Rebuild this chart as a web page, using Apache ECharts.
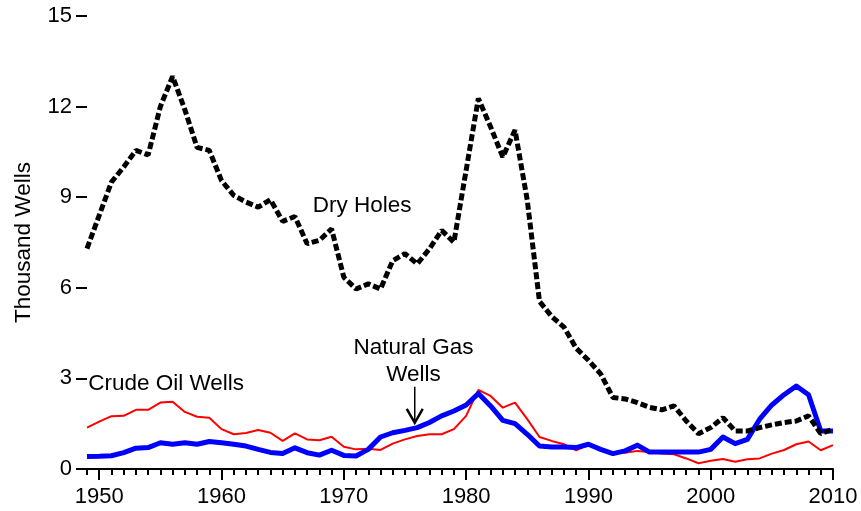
<!DOCTYPE html>
<html>
<head>
<meta charset="utf-8">
<script src="https://cdn.jsdelivr.net/npm/echarts@6/dist/echarts.min.js"></script>
<style>
  html, body { margin: 0; padding: 0; background: #fff; }
  #chart { width: 861px; height: 511px; }
</style>
</head>
<body>
<div id="chart"></div>
<script>
// Exploratory wells drilled, thousand wells, 1949-2010
const years = []
for (let y = 1949; y <= 2010; y++) years.push(y)

const dryHoles = [
  7.3, 8.4, 9.5, 10.0, 10.55, 10.4, 12.0, 13.0, 11.9, 10.65, 10.55, 9.55,
  9.06, 8.84, 8.67, 8.92, 8.2, 8.36, 7.46, 7.57, 7.95, 6.35, 5.96, 6.13,
  5.96, 6.9, 7.13, 6.79, 7.29, 7.9, 7.51, 9.89, 12.27, 11.33, 10.33, 11.22,
  8.9, 5.55, 5.05, 4.7, 4.0, 3.6, 3.15, 2.37, 2.32, 2.2, 2.04, 1.96,
  2.09, 1.59, 1.17, 1.37, 1.7, 1.26, 1.26, 1.37, 1.46, 1.54, 1.59, 1.76,
  1.17, 1.32,
]

const crudeOil = [
  1.37, 1.57, 1.75, 1.76, 1.96, 1.96, 2.2, 2.23, 1.89, 1.73, 1.7, 1.32,
  1.15, 1.19, 1.29, 1.2, 0.93, 1.18, 0.98, 0.95, 1.07, 0.74, 0.65, 0.67,
  0.63, 0.84, 0.98, 1.09, 1.15, 1.15, 1.32, 1.76, 2.62, 2.42, 2.03, 2.2,
  1.65, 1.06, 0.93, 0.82, 0.62, 0.8, 0.65, 0.54, 0.54, 0.6, 0.56, 0.51,
  0.49, 0.35, 0.19, 0.27, 0.33, 0.24, 0.32, 0.35, 0.51, 0.63, 0.82, 0.91,
  0.62, 0.79,
]

const naturalGas = [
  0.41, 0.42, 0.44, 0.54, 0.69, 0.71, 0.87, 0.82, 0.87, 0.82, 0.91, 0.87,
  0.82, 0.76, 0.65, 0.55, 0.51, 0.7, 0.54, 0.46, 0.62, 0.45, 0.43, 0.65,
  1.06, 1.2, 1.28, 1.37, 1.54, 1.76, 1.92, 2.12, 2.5, 2.09, 1.61, 1.5,
  1.15, 0.76, 0.73, 0.73, 0.71, 0.82, 0.65, 0.51, 0.6, 0.79, 0.56, 0.56,
  0.56, 0.56, 0.56, 0.65, 1.06, 0.84, 0.98, 1.65, 2.12, 2.46, 2.75, 2.46,
  1.26, 1.26,
]

const yTicks = [0, 3, 6, 9, 12, 15]
const decadeTicks = [1950, 1960, 1970, 1980, 1990, 2000, 2010]

const pairs = (vals) => years.map((y, i) => [y, vals[i]])

const FONT = 'Liberation Sans, Arial, sans-serif'
const chart = echarts.init(document.getElementById('chart'), null, { renderer: 'canvas' })

chart.setOption({
  animation: false,
  backgroundColor: '#fff',
  grid: { left: 87, right: 28, top: 16, bottom: 42 },
  xAxis: [
    {
      type: 'value', min: 1949, max: 2010, interval: 1,
      axisLine: { lineStyle: { color: '#000', width: 2 } },
      axisTick: { length: 6, lineStyle: { color: '#000', width: 2 } },
      axisLabel: { show: false },
      splitLine: { show: false },
    },
    {
      type: 'value', min: 1949, max: 2010, position: 'bottom',
      axisLine: { show: false },
      axisTick: { customValues: decadeTicks, length: 11, lineStyle: { color: '#000', width: 2 } },
      axisLabel: {
        customValues: decadeTicks, margin: 17,
        color: '#000', fontSize: 22, fontFamily: FONT,
        formatter: (v) => String(v),
      },
      splitLine: { show: false },
    },
  ],
  yAxis: {
    type: 'value', min: 0, max: 15, interval: 3,
    name: 'Thousand Wells', nameLocation: 'middle', nameGap: 52,
    nameTextStyle: { color: '#000', fontSize: 22.5, fontFamily: FONT },
    axisLine: { show: false },
    axisTick: { show: true, length: 11, lineStyle: { color: '#000', width: 2 } },
    axisLabel: {
      color: '#000', fontSize: 22, fontFamily: FONT, margin: 15,
      formatter: (v) => (yTicks.includes(v) ? String(v) : ''),
    },
    splitLine: { show: false },
  },
  series: [
    {
      name: 'Crude Oil Wells', type: 'line', data: pairs(crudeOil),
      symbol: 'none', lineStyle: { color: '#ff0000', width: 2 },
    },
    {
      name: 'Natural Gas Wells', type: 'line', data: pairs(naturalGas),
      symbol: 'none', lineStyle: { color: '#0000ff', width: 5, join: 'round' },
    },
    {
      name: 'Dry Holes', type: 'line', data: pairs(dryHoles),
      symbol: 'none',
      lineStyle: { color: '#000', width: 5, type: [7, 3], cap: 'butt' },
    },
  ],
})

// annotations placed in data coordinates
const px = (x, y) => chart.convertToPixel({ gridIndex: 0 }, [x, y])
const label = (text, at, align) => {
  const p = px(at[0], at[1])
  return {
    type: 'text', x: p[0], y: p[1],
    style: {
      text, fill: '#000', font: '22.5px ' + FONT,
      textAlign: align || 'center', textVerticalAlign: 'middle',
    },
  }
}
const arrowTop = px(1975.8, 2.72)
const arrowTip = px(1975.8, 1.53)

chart.setOption({
  graphic: [
    label('Dry Holes', [1971.5, 8.73]),
    label('Crude Oil Wells', [1949.1, 2.82], 'left'),
    label('Natural Gas', [1975.7, 4.02]),
    label('Wells', [1975.7, 3.12]),
    {
      type: 'line',
      shape: { x1: arrowTop[0], y1: arrowTop[1], x2: arrowTip[0], y2: arrowTip[1] },
      style: { stroke: '#000', lineWidth: 1.5 },
    },
    {
      type: 'polyline',
      shape: { points: [[arrowTip[0] - 8, arrowTip[1] - 14], [arrowTip[0], arrowTip[1]], [arrowTip[0] + 8, arrowTip[1] - 14]] },
      style: { stroke: '#000', lineWidth: 2.5, fill: null },
    },
  ],
})
</script>
</body>
</html>
